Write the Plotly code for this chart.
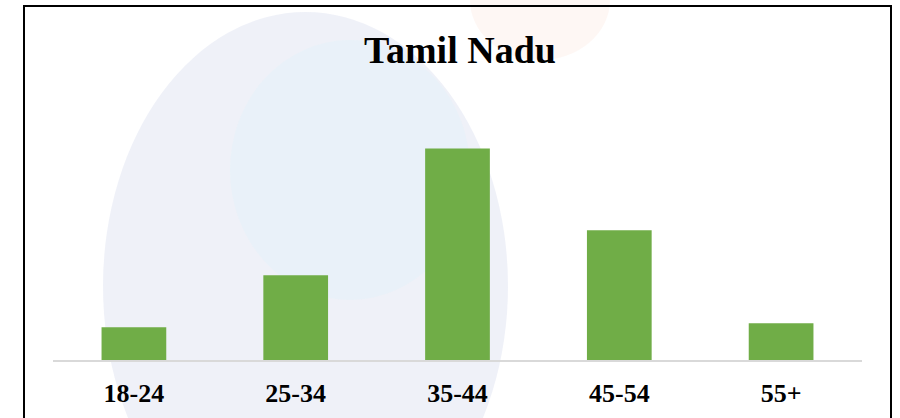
import plotly.graph_objects as go

categories = ["18-24", "25-34", "35-44", "45-54", "55+"]
values = [6.6, 17.1, 42.7, 26.2, 7.4]
title_text = "Tamil Nadu"

bar_color = "#70AD47"
font_family = "Liberation Serif, DejaVu Serif, serif"

fig = go.Figure()
fig.add_trace(go.Bar(
    x=categories,
    y=values,
    marker=dict(color=bar_color, line=dict(width=0)),
    hoverinfo="x+y",
))

# plot area: x 53..862 px, y 100..360 px
L, R, T, B = 53, 38, 100, 58
W, H = 900, 418
pw, ph = W - L - R, H - T - B

def px(x):
    return (x - L) / pw

def py(y):
    return (H - B - y) / ph

shapes = [
    # faint watermark: large pale blue disc
    dict(type="circle", xref="paper", yref="paper", layer="below",
         x0=px(103), x1=px(508), y0=py(560), y1=py(12),
         fillcolor="rgba(225,229,243,0.55)", line=dict(width=0)),
    dict(type="circle", xref="paper", yref="paper", layer="below",
         x0=px(230), x1=px(470), y0=py(300), y1=py(40),
         fillcolor="rgba(225,243,250,0.4)", line=dict(width=0)),
    # faint peach blob near top
    dict(type="circle", xref="paper", yref="paper", layer="below",
         x0=px(470), x1=px(610), y0=py(60), y1=py(-60),
         fillcolor="rgba(253,228,218,0.3)", line=dict(width=0)),
    # outer border
    dict(type="rect", xref="paper", yref="paper", layer="above",
         x0=px(24), x1=px(891), y0=py(430), y1=py(6),
         fillcolor="rgba(0,0,0,0)", line=dict(color="black", width=2)),
]

fig.update_layout(
    width=W, height=H,
    margin=dict(l=L, r=R, t=T, b=B, autoexpand=False),
    paper_bgcolor="white",
    plot_bgcolor="rgba(0,0,0,0)",
    bargap=0.6,
    showlegend=False,
    title=dict(text=f"<b>{title_text}</b>", xref="paper", x=px(460), xanchor="center",
               yref="container", y=1 - 50 / H, yanchor="middle",
               font=dict(family=font_family, size=38, color="black")),
    xaxis=dict(showgrid=False, showline=True, linecolor="#d9d9d9", linewidth=1.5,
               automargin=False,
               ticks="outside", ticklen=9, tickcolor="rgba(0,0,0,0)",
               tickfont=dict(family=font_family, size=26, color="black"),
               tickprefix="<b>", ticksuffix="</b>", fixedrange=True),
    yaxis=dict(visible=False, range=[0, 52.5], showgrid=False, zeroline=False,
               automargin=False, fixedrange=True),
    shapes=shapes,
)

fig.write_html("out.html", config={"displayModeBar": False},
               post_script="document.body.style.margin='0';document.body.style.overflow='hidden';")
